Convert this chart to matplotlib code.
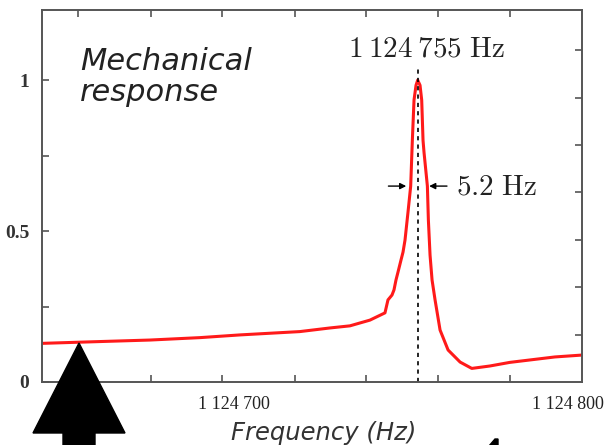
import matplotlib
matplotlib.use("Agg")
import matplotlib.pyplot as plt
from matplotlib.patches import Polygon

plt.rcParams["mathtext.fontset"] = "cm"

# Measured mechanical response (normalised amplitude) vs drive frequency
freq_hz = [1124642.5, 1124659.9, 1124674.8, 1124689.8, 1124701.8, 1124719.7,
           1124728.7, 1124734.7, 1124740.7, 1124745.2, 1124746.1, 1124747.3,
           1124747.9, 1124748.5, 1124749.1, 1124750.0, 1124750.6, 1124751.2,
           1124752.1, 1124752.9, 1124753.4, 1124753.9, 1124754.5, 1124755.0,
           1124755.7, 1124756.2, 1124756.6, 1124756.9, 1124757.9, 1124758.2,
           1124758.7, 1124759.3, 1124760.2, 1124761.7, 1124764.1, 1124767.7,
           1124771.2, 1124776.6, 1124782.6, 1124788.6, 1124796.1, 1124803.9]
response = [0.128, 0.134, 0.139, 0.147, 0.156, 0.167,
            0.179, 0.186, 0.205, 0.229, 0.272, 0.288,
            0.305, 0.338, 0.364, 0.404, 0.430, 0.470,
            0.563, 0.649, 0.801, 0.934, 0.983, 1.000,
            0.983, 0.934, 0.800, 0.760, 0.649, 0.536,
            0.420, 0.338, 0.272, 0.172, 0.106, 0.066,
            0.045, 0.053, 0.065, 0.073, 0.083, 0.089]

resonance_hz = 1124755.0
linewidth_hz = 5.2
half_level = 0.649

x_labels = [1124700, 1124800]
x_label_text = ["1 124 700", "1 124 800"]
x_minor = [1124653.3, 1124675.1, 1124696.4, 1124718.2, 1124739.5,
           1124761.1, 1124782.6]
y_ticks_left = [0, 0.25, 0.5, 0.75, 1.0]
y_labels_left = ["0", "", "0.5", "", "1"]
y_ticks_right = [0.157, 0.314, 0.471, 0.628, 0.785, 0.942, 1.099]

W, H = 607, 445
fig = plt.figure(figsize=(W / 100, H / 100), dpi=100)
ax = fig.add_axes([42 / W, 1 - 382 / H, 540 / W, 372.5 / H])

ax.plot(freq_hz, response, color="#ff1a1a", lw=2.2, solid_joinstyle="round")
ax.plot([resonance_hz, resonance_hz], [0, 1.045], color="black", lw=1.2,
        dashes=(2.5, 2.5))

ax.set_xlim(1124642.5, 1124804.2)
ax.set_ylim(0, 1.234)

spine_col = "#555555"
for s in ax.spines.values():
    s.set_color(spine_col)
    s.set_linewidth(1.4)

ax.set_xticks(x_labels)
ax.set_xticklabels(x_label_text, family="Liberation Serif", fontsize=13,
                   color="#222222")
ax.set_xticks(x_minor, minor=True)
ax.tick_params(axis="x", which="major", length=0, pad=10)
ax.tick_params(axis="x", which="minor", direction="in", length=5, width=1.2,
               color=spine_col, top=True, bottom=True)

ax.set_yticks(y_ticks_left)
ax.set_yticklabels(y_labels_left, family="Liberation Serif", fontsize=14,
                   color="#333333", fontweight="bold")
ax.tick_params(axis="y", which="major", direction="in", length=5, width=1.2,
               color=spine_col, pad=9, right=False)
ax.set_yticks(y_ticks_right, minor=True)
ax.tick_params(axis="y", which="minor", direction="in", length=5, width=1.2,
               color=spine_col, left=False, right=True)

ax.set_xlabel("Frequency (Hz)", fontsize=17.5, style="italic", color="#333333")
ax.xaxis.set_label_coords(0.522, -0.105)

ax.text(0.07, 0.9, "Mechanical\nresponse", transform=ax.transAxes,
        fontsize=22, style="italic", color="#222222", va="top", ha="left",
        linespacing=1.1)

ax.text(resonance_hz + 2.8, 1.079, r"$1\:124\:755\ \mathrm{Hz}$",
        fontsize=21, ha="center", va="baseline", color="#222222")

# linewidth marker: two inward arrows around the peak
arrow_kw = dict(arrowstyle="-|>", color="black", lw=1.0, mutation_scale=9)
ax.annotate("", xy=(resonance_hz - linewidth_hz / 2, half_level),
            xytext=(resonance_hz - linewidth_hz / 2 - 7, half_level),
            arrowprops=arrow_kw)
ax.annotate("", xy=(resonance_hz + linewidth_hz / 2, half_level),
            xytext=(resonance_hz + linewidth_hz / 2 + 7, half_level),
            arrowprops=arrow_kw)
ax.text(resonance_hz + linewidth_hz / 2 + 9, half_level,
        r"$%.1f\ \mathrm{Hz}$" % linewidth_hz, fontsize=21, ha="left",
        va="center", color="#222222")

# pointer arrow below the axis
pts = [(79, 343), (125, 433), (95, 433), (95, 446), (63, 446), (63, 433),
       (33, 433)]
fig.patches.append(Polygon([(x / W, 1 - y / H) for x, y in pts], closed=True,
                           transform=fig.transFigure, color="black",
                           zorder=10))
# small dark fragment at the lower edge
frag = [(489, 446), (495, 439), (498, 439), (498, 446)]
fig.patches.append(Polygon([(x / W, 1 - y / H) for x, y in frag], closed=True,
                           transform=fig.transFigure, color="black",
                           zorder=10))

fig.savefig("out.png", dpi=100)
